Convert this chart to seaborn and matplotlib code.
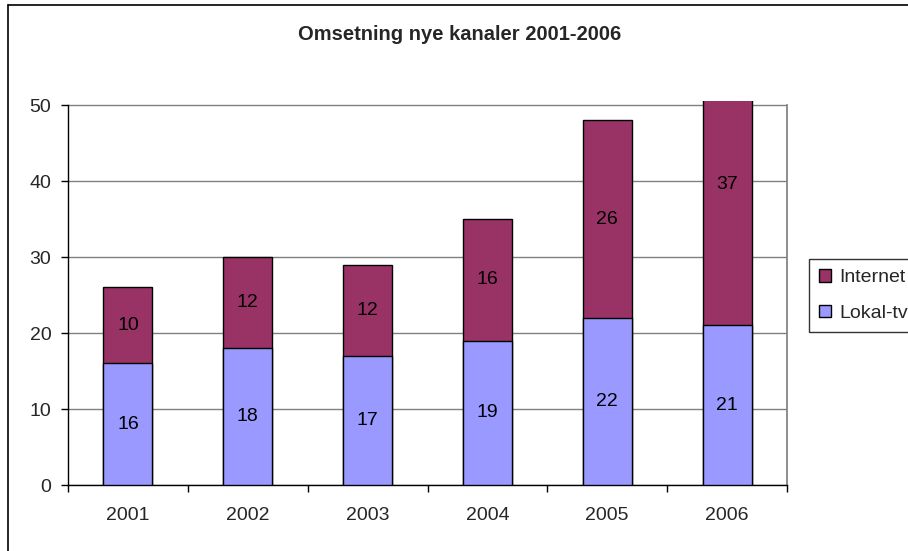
import matplotlib
matplotlib.use("Agg")
import matplotlib.pyplot as plt
import seaborn as sns
import pandas as pd
import numpy as np
from matplotlib.lines import Line2D
from matplotlib.patches import Patch

years = ["2001", "2002", "2003", "2004", "2005", "2006"]
lokal_tv = [16, 18, 17, 19, 22, 21]
internet = [10, 12, 12, 16, 26, 37]

col_lokal = "#9999FF"
col_internet = "#993366"

sns.set_theme(style="white")
plt.rcParams['font.family'] = ['Liberation Sans', 'DejaVu Sans']

FS = 14
W, H = 908, 551
fig = plt.figure(figsize=(W / 100, H / 100), dpi=100)
ax_l, ax_r, ax_b, ax_t = 68, 787, 485, 101.2
ax = fig.add_axes([ax_l / W, 1 - ax_b / H, (ax_r - ax_l) / W, (ax_b - ax_t) / H])

df = pd.DataFrame({"year": years, "lokal": lokal_tv, "internet": internet})
df["total"] = df["lokal"] + df["internet"]

sns.barplot(data=df, x="year", y="total", color=col_internet, width=0.41,
            edgecolor="black", linewidth=1.0, saturation=1, ax=ax, zorder=3)
sns.barplot(data=df, x="year", y="lokal", color=col_lokal, width=0.41,
            edgecolor="black", linewidth=1.0, saturation=1, ax=ax, zorder=3)

for i, (l, n) in enumerate(zip(lokal_tv, internet)):
    ax.text(i, l / 2, str(l), ha="center", va="center", fontsize=FS, color="black", zorder=5)
    ax.text(i, l + n / 2, str(n), ha="center", va="center", fontsize=FS, color="black", zorder=5)

ax.set_xlim(-0.5, 5.5)
ax.set_ylim(0, 50.5)
ax.set_yticks(range(0, 51, 10))
ax.yaxis.grid(True, color="#808080", linewidth=1.0, zorder=0)
ax.set_axisbelow(True)
ax.set_xlabel("")
ax.set_ylabel("")

for s in ["left", "bottom"]:
    ax.spines[s].set_color("black")
    ax.spines[s].set_linewidth(1.0)
ax.spines["left"].set_bounds(0, 50)
ax.spines["top"].set_visible(False)
ax.spines["right"].set_color("#808080")
ax.spines["right"].set_bounds(0, 50)

ax.tick_params(axis="y", which="major", left=True, length=5, width=1, color="black",
               labelsize=FS, pad=7)
ax.tick_params(axis="x", which="major", length=0, labelsize=FS, pad=16)
ax.set_xticks(np.arange(-0.5, 6, 1), minor=True)
ax.tick_params(axis="x", which="minor", bottom=True, length=5, width=1, color="black")

fig.text(460 / W, 1 - 35 / H, "Omsetning nye kanaler 2001-2006", ha="center", va="center",
         fontsize=14.5, fontweight="bold")

handles = [Patch(facecolor=col_internet, edgecolor="black", label="Internet"),
           Patch(facecolor=col_lokal, edgecolor="black", label="Lokal-tv")]
leg = fig.legend(handles=handles, loc="upper left", bbox_to_anchor=(809 / W, 1 - 259 / H),
                 frameon=True, fontsize=FS, handlelength=0.65, handleheight=0.65,
                 handletextpad=0.4, labelspacing=0.95, borderpad=0.5, fancybox=False,
                 borderaxespad=0)
leg.get_frame().set_edgecolor("black")
leg.get_frame().set_linewidth(1.0)

fig.add_artist(Line2D([8 / W, 8 / W], [0, 1 - 5 / H], transform=fig.transFigure, color="black", lw=1.2))
fig.add_artist(Line2D([8 / W, 1], [1 - 5 / H, 1 - 5 / H], transform=fig.transFigure, color="black", lw=1.2))

fig.savefig("out.png", dpi=100)
